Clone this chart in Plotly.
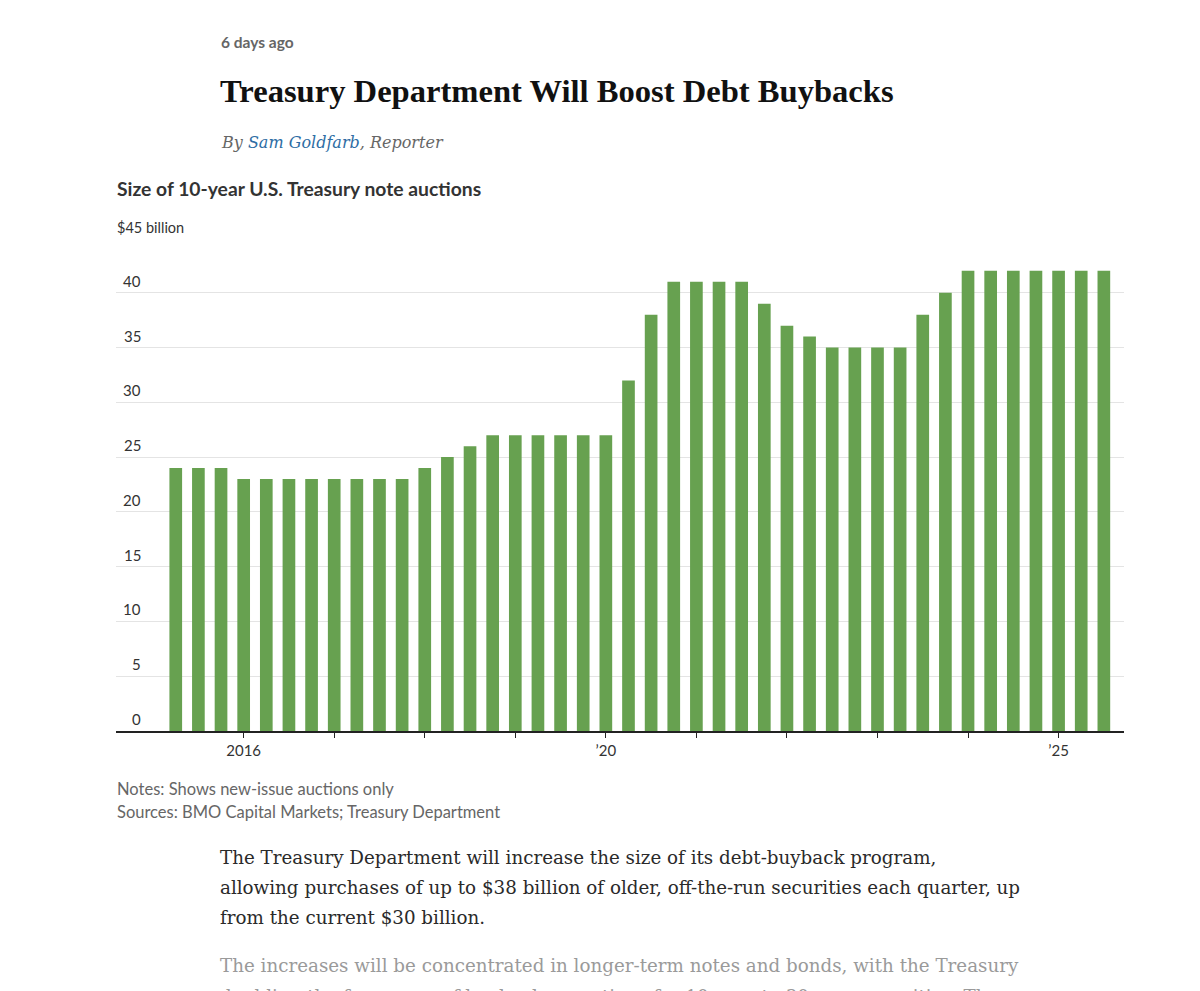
import plotly.graph_objects as go

# ---------------- data ----------------
quarters = []
y0, q0 = 2015, 2
for i in range(42):
    q = q0 + i
    yr = y0 + (q - 1) // 4
    qq = (q - 1) % 4 + 1
    quarters.append(f"{yr} Q{qq}")

auction_size = [24, 24, 24, 23, 23, 23, 23, 23, 23, 23, 23, 24, 25, 26, 27, 27,
                27, 27, 27, 27, 32, 38, 41, 41, 41, 41, 39, 37, 36, 35, 35, 35,
                35, 38, 40, 42, 42, 42, 42, 42, 42, 42]

x_tickvals = [f"{y} Q1" for y in range(2016, 2026)]
x_ticktext = ["2016", "", "", "", "\u201920", "", "", "", "", "\u201925"]

y_tickvals = [0, 5, 10, 15, 20, 25, 30, 35, 40]
y_ticktext = ["0", "5", "10", "15", "20", "25", "30", "35", "40"]
y_top_value = 45
y_top_label = "$45 billion"

# ---------------- layout geometry (pixels, page coords) ----------------
W, H = 1200, 991
OFF = 8  # page body margin
L, R, T, B = 116 - OFF, 1124 - OFF, 238 - OFF, 731 - OFF


def px(x):
    return (x - OFF - L) / (R - L)


def py(y):
    return (B - (y - OFF)) / (B - T)


BAR = "#67a150"
SANS = "Lato, 'Open Sans', sans-serif"
SERIF = "'Liberation Serif', serif"
SLAB = "'DejaVu Serif', serif"

fig = go.Figure()
fig.add_trace(go.Bar(
    x=quarters, y=auction_size, marker=dict(color=BAR, line=dict(width=0)),
    width=0.56, hoverinfo="x+y", showlegend=False,
))

ann = []
for v, t in zip(y_tickvals, y_ticktext):
    ann.append(dict(x=px(143), y=v, xref="paper", yref="y", text=t,
                    xanchor="right", yanchor="bottom", yshift=1, showarrow=False,
                    font=dict(family=SANS, size=15, color="#333333")))
ann.append(dict(x=px(115), y=y_top_value, xref="paper", yref="y", text=y_top_label,
                xanchor="left", yanchor="bottom", yshift=0, showarrow=False,
                font=dict(family=SANS, size=14.5, color="#333333")))


def txt(x, y, text, size, color, family, weight="normal", style="normal"):
    ann.append(dict(x=px(x), y=py(y), xref="paper", yref="paper", text=text,
                    xanchor="left", yanchor="middle", showarrow=False,
                    font=dict(family=family, size=size, color=color,
                              weight=weight, style=style)))


txt(219, 42, "6 days ago", 15.5, "#666666", SANS, weight="bold")
txt(218, 91, "Treasury Department Will Boost Debt Buybacks", 32.6, "#111111", SERIF, weight="bold")
txt(219, 142, "By <span style='color:#2e6da4'>Sam Goldfarb</span>, Reporter",
    16, "#666666", SLAB, style="italic")
txt(115, 188, "Size of 10-year U.S. Treasury note auctions", 19.3, "#333333", SANS, weight="bold")
txt(115, 789, "Notes: Shows new-issue auctions only", 16.5, "#666666", SANS)
txt(115, 812, "Sources: BMO Capital Markets; Treasury Department", 16.5, "#666666", SANS)

body = [
    (857, "The Treasury Department will increase the size of its debt-buyback program,", "#2a2a2a"),
    (887, "allowing purchases of up to $38 billion of older, off-the-run securities each quarter, up", "#2a2a2a"),
    (917, "from the current $30 billion.", "#2a2a2a"),
    (965, "The increases will be concentrated in longer-term notes and bonds, with the Treasury", "#9a9a9a"),
    (996, "doubling the frequency of buyback operations for 10-year to 30-year securities. The", "#9a9a9a"),
]
for yy, t, c in body:
    txt(218, yy, t, 18.3, c, SLAB)

fig.update_layout(
    width=W, height=H,
    margin=dict(l=L, r=W - R, t=T, b=H - B, pad=0),
    paper_bgcolor="white", plot_bgcolor="white",
    annotations=ann,
    xaxis=dict(
        type="category", categoryorder="array", categoryarray=quarters,
        range=[-2.64, 41.89], tickvals=x_tickvals, ticktext=x_ticktext,
        ticks="outside", ticklen=5, tickwidth=1, tickcolor="#222222",
        showline=True, linecolor="#222222", linewidth=1.5,
        showgrid=False, zeroline=False,
        tickfont=dict(family=SANS, size=15, color="#333333"),
        fixedrange=True,
    ),
    yaxis=dict(
        range=[0, 45], tickvals=y_tickvals + [y_top_value], showticklabels=False,
        showgrid=True, gridcolor="#e4e4e4", gridwidth=1,
        zeroline=False, showline=False, ticks="", fixedrange=True,
    ),
)

fig.write_html("out.html", config={"displayModeBar": False})
